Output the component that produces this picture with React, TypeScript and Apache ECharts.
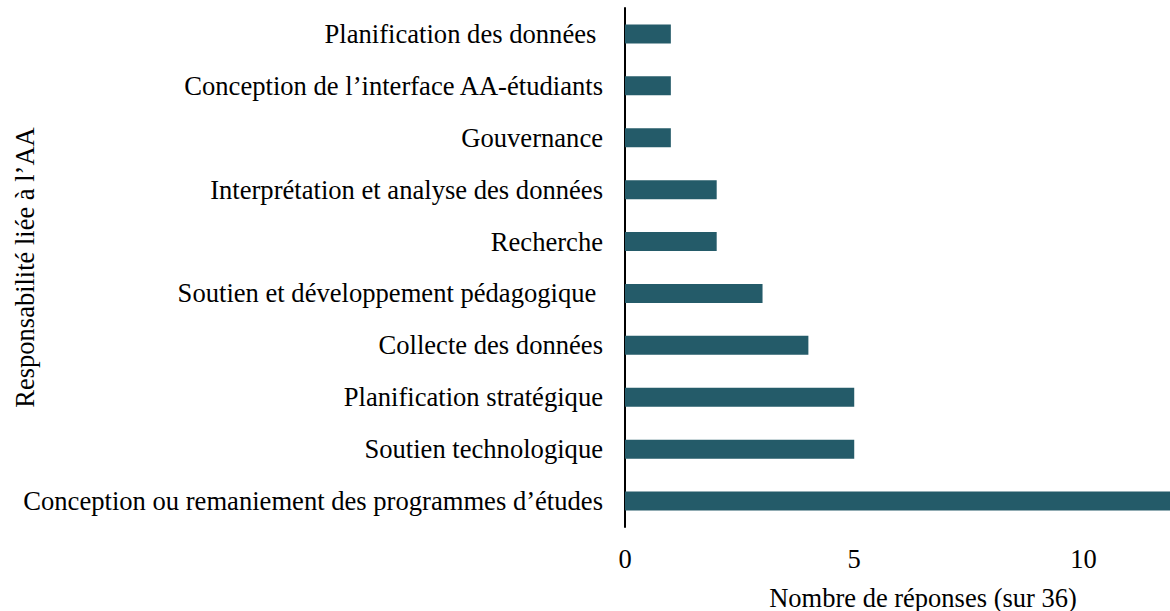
import React, { useEffect, useRef } from "react";
import * as echarts from "echarts";

const categories = [
  "Conception ou remaniement des programmes d’études",
  "Soutien technologique",
  "Planification stratégique",
  "Collecte des données",
  "Soutien et développement pédagogique\u00a0",
  "Recherche",
  "Interprétation et analyse des données",
  "Gouvernance",
  "Conception de l’interface AA-étudiants",
  "Planification des données\u00a0",
];
const values = [12, 5, 5, 4, 3, 2, 2, 1, 1, 1];
const xTicks = [0, 5, 10];

export default function App() {
  const ref = useRef<HTMLDivElement>(null);
  useEffect(() => {
    document.body.style.margin = "0";
    document.body.style.overflow = "hidden";
    if (!ref.current) return;
    const chart = echarts.init(ref.current, null, { renderer: "svg" });
    const font = "'Liberation Serif', 'Times New Roman', serif";
    chart.setOption({
      animation: false,
      grid: {
        left: 625,
        width: 596,
        top: 8,
        height: 519,
        containLabel: false,
        outerBoundsMode: "none",
      },
      xAxis: {
        type: "value",
        min: 0,
        max: 13,
        interval: 5,
        name: "Nombre de réponses (sur 36)",
        nameLocation: "middle",
        nameGap: 57,
        nameMoveOverlap: false,
        nameTextStyle: { fontFamily: font, fontSize: 26.5, color: "#000" },
        axisLine: { show: false },
        axisTick: { show: false },
        splitLine: { show: false },
        axisLabel: {
          fontFamily: font,
          fontSize: 26.5,
          color: "#000",
          margin: 18,
          showMaxLabel: false,
          formatter: (v: number) => (xTicks.includes(v) ? String(v) : ""),
        },
      },
      yAxis: {
        type: "category",
        data: categories,
        name: "Responsabilité liée à l’AA",
        nameLocation: "middle",
        nameGap: 587,
        nameRotate: 90,
        nameMoveOverlap: false,
        nameTextStyle: { fontFamily: font, fontSize: 26.5, color: "#000" },
        axisLine: { show: true, lineStyle: { color: "#000", width: 2 } },
        axisTick: { show: false },
        axisLabel: { fontFamily: font, fontSize: 26.6, color: "#000", margin: 22 },
      },
      series: [
        {
          type: "bar",
          data: values,
          barWidth: 19,
          itemStyle: { color: "#245b69" },
        },
      ],
    });
    return () => chart.dispose();
  }, []);
  return <div ref={ref} style={{ width: 1170, height: 611 }} />;
}
